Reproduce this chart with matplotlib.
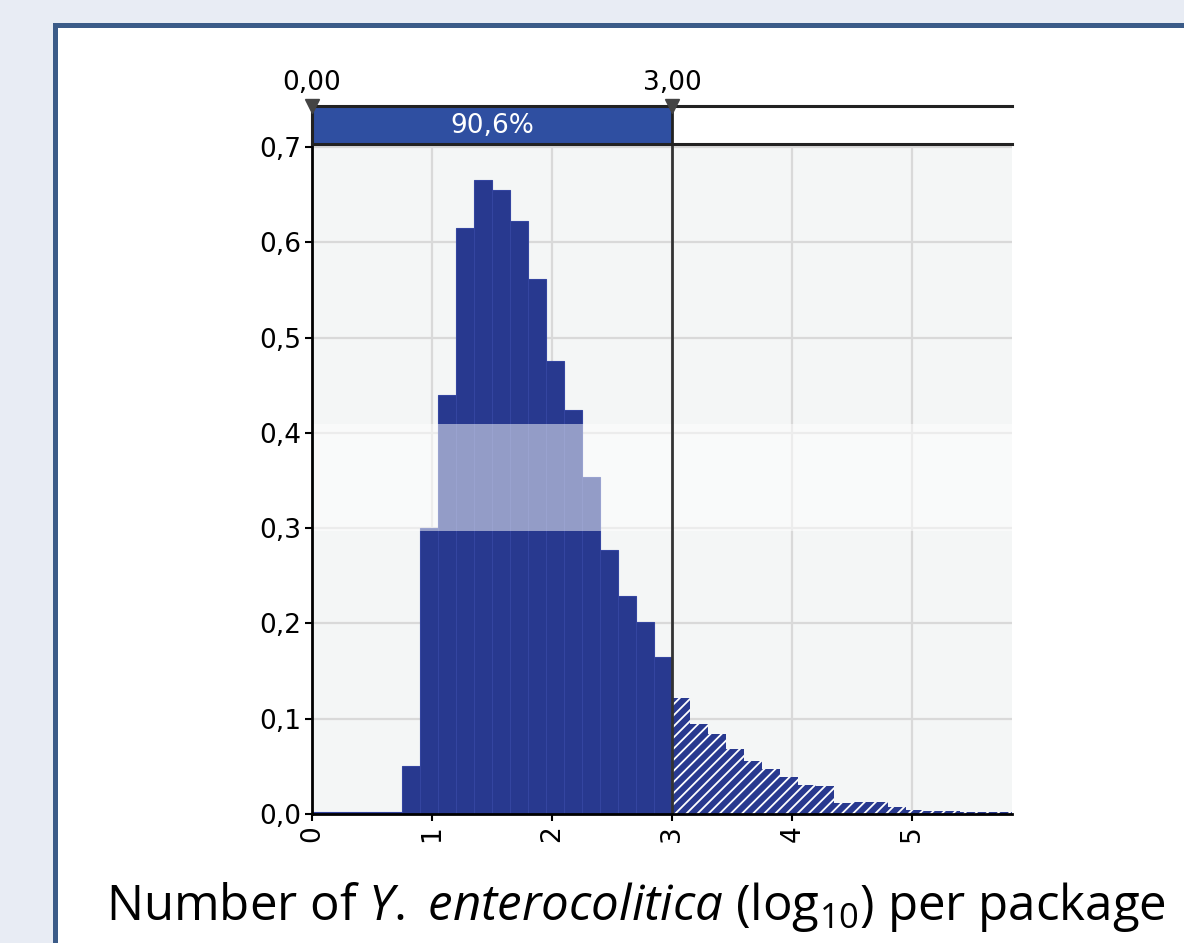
import numpy as np
import matplotlib
matplotlib.use("Agg")
import matplotlib.pyplot as plt
from matplotlib.patches import Rectangle
from matplotlib.ticker import FuncFormatter

# histogram: bins of 0.15 log10 units starting at 0
bin_width = 0.15
bin_lefts = np.round(np.arange(0, 5.85 - 1e-9, bin_width), 2)
heights = [0.002, 0.002, 0.002, 0.002, 0.002, 0.050, 0.300, 0.440, 0.615, 0.665,
           0.655, 0.622, 0.561, 0.475, 0.424, 0.354, 0.277, 0.229, 0.202, 0.165,
           0.122, 0.094, 0.084, 0.068, 0.056, 0.047, 0.039, 0.030, 0.029, 0.012,
           0.013, 0.013, 0.007, 0.004, 0.003, 0.003, 0.002, 0.002, 0.002]
lower, upper = 0.0, 3.0
inside_pct = 90.6
x_ticks = [0, 1, 2, 3, 4, 5]
y_ticks = [0.0, 0.1, 0.2, 0.3, 0.4, 0.5, 0.6, 0.7]

W, H = 1184, 943
fig = plt.figure(figsize=(W / 100, H / 100), dpi=100, facecolor="#e8ecf4")
fig.patches.append(Rectangle((54.5 / W, -0.05), 1.2, 1 - 24.5 / H + 0.05,
                             transform=fig.transFigure, facecolor="white",
                             edgecolor="#3b5b88", lw=3.6, zorder=-5))

plt.rcParams['mathtext.fontset'] = 'custom'
plt.rcParams['mathtext.rm'] = 'Open Sans'
plt.rcParams['mathtext.it'] = 'Open Sans:italic'
plt.rcParams['hatch.linewidth'] = 1.3

x_max = 5.83
ax = fig.add_axes([312 / W, 1 - 814 / H, 700 / W, 670 / H])
ax.set_facecolor("#f4f6f6")
ax.set_xlim(0, x_max)
ax.set_ylim(0, 0.7 * 670 / 667)

lefts = np.array(bin_lefts)
h = np.array(heights)
ins = lefts < upper
blue = "#28398f"
ax.bar(lefts[ins], h[ins], width=bin_width, align="edge", color=blue,
       edgecolor="#3445a0", lw=0.8, zorder=2)
ax.bar(lefts[~ins], h[~ins], width=bin_width, align="edge", color=blue,
       edgecolor="white", lw=0, hatch="///", zorder=2)

ax.axhspan(0.2975, 0.409, color="white", alpha=0.5, lw=0, zorder=3)

ax.set_axisbelow(True)
ax.grid(color="#d9d9d9", lw=1.6)
ax.set_xticks(x_ticks)
ax.set_xticklabels([str(t) for t in x_ticks], rotation=90)
ax.set_yticks(y_ticks)
ax.yaxis.set_major_formatter(FuncFormatter(lambda v, p: f"{v:.1f}".replace(".", ",")))
ax.tick_params(labelsize=19, length=5, width=1.5, color="black", pad=3)
for s in ["top", "right"]:
    ax.spines[s].set_visible(False)
for s in ["left", "bottom"]:
    ax.spines[s].set_linewidth(2)
    ax.spines[s].set_zorder(5)
ax.axvline(upper, color="#333333", lw=2, zorder=5)

# range bar on top
tax = fig.add_axes([312 / W, 1 - 144 / H, 700 / W, 38 / H])
tax.set_xlim(0, x_max)
tax.set_ylim(0, 1)
tax.axis("off")
tax.add_patch(Rectangle((lower, 0), upper - lower, 1, facecolor="#2f4fa1", lw=0))
tax.axhline(0, color="#222222", lw=2.2, clip_on=False)
tax.axhline(1, color="#222222", lw=2.2, clip_on=False)
tax.axvline(lower, color="#222222", lw=2.2, clip_on=False)
tax.axvline(upper, color="#222222", lw=2, clip_on=False)
tax.text((lower + upper) / 2, 0.47, f"{inside_pct:.1f}%".replace(".", ","),
         color="white", fontsize=19, ha="center", va="center")
tax.plot([lower, upper], [1, 1], "v", color="#444444", ms=10, clip_on=False, zorder=6)
for v in (lower, upper):
    tax.annotate(f"{v:.2f}".replace(".", ","), (v, 1), xytext=(0, 7),
                 textcoords="offset points", ha="center", va="bottom", fontsize=19)

fig.text(636 / W, 1 - 920 / H,
         r"Number of $\mathit{Y.}$ $\mathit{enterocolitica}$ $(\mathrm{log}_{10})$ per package",
         fontsize=35.5, family="Open Sans", ha="center", va="baseline")

fig.savefig("out.png", dpi=100, facecolor=fig.get_facecolor())
